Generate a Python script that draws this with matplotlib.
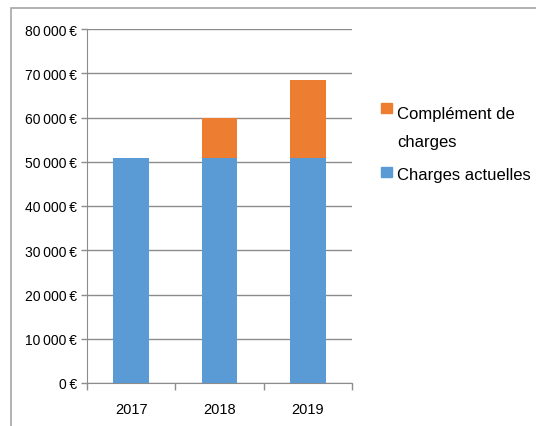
import matplotlib
matplotlib.use("Agg")
import matplotlib.pyplot as plt
from matplotlib.patches import Rectangle
from matplotlib.ticker import FixedLocator, FuncFormatter

years = ["2017", "2018", "2019"]
charges_actuelles = [50800, 50800, 50800]
complement = [0, 9100, 17700]
yticks = [0, 10000, 20000, 30000, 40000, 50000, 60000, 70000, 80000]
legend_labels = ["Complément de", "charges", "Charges actuelles"]

plt.rcParams["font.family"] = ["Liberation Sans", "DejaVu Sans"]

blue = "#5b9bd5"
orange = "#ed7d31"
gray = "#8c8c8c"

fig = plt.figure(figsize=(5.36, 4.27), dpi=100)
ax = fig.add_axes([87/536, 1 - 384/427, (352-87)/536, (384-30)/427])

x = list(range(len(years)))
ax.bar(x, charges_actuelles, width=0.4, color=blue, zorder=3)
ax.bar(x, complement, width=0.4, bottom=charges_actuelles, color=orange, zorder=3)

ax.set_xlim(-0.5, 2.5)
ax.set_ylim(0, 80000)
ax.set_yticks(yticks)
ax.yaxis.set_major_formatter(FuncFormatter(lambda v, p: f"{int(v):,}".replace(",", "\u2009") + "\u2009€"))
ax.set_xticks(x)
ax.set_xticklabels(years)
ax.xaxis.set_minor_locator(FixedLocator([-0.5, 0.5, 1.5, 2.5]))
ax.tick_params(axis="x", which="major", length=0, pad=14, labelsize=10.5)
ax.tick_params(axis="x", which="minor", length=5, color=gray, width=1)
ax.tick_params(axis="y", length=4, color=gray, width=1, labelsize=10, pad=3)

ax.grid(axis="y", color=gray, linewidth=1, zorder=0)
for s in ["top", "right"]:
    ax.spines[s].set_visible(False)
ax.spines["left"].set_color(gray)
ax.spines["bottom"].set_color(gray)

# legend (manual, Excel-like)
def fx(px): return px / 536
def fy(py): return 1 - py / 427
fig.patches.append(Rectangle((fx(381), fy(114)), 11/536, 10/427,
                             transform=fig.transFigure, color=orange))
fig.patches.append(Rectangle((fx(381), fy(178)), 11/536, 10/427,
                             transform=fig.transFigure, color=blue))
fig.text(fx(397), fy(119), legend_labels[0], fontsize=12, va="baseline", ha="left")
fig.text(fx(397), fy(147), legend_labels[1], fontsize=12, va="baseline", ha="left")
fig.text(fx(397), fy(180), legend_labels[2], fontsize=12, va="baseline", ha="left")

fig.patches.append(Rectangle((11/536, -0.5), 2, (427-9)/427 + 0.5,
                             transform=fig.transFigure, fill=False,
                             edgecolor="#a6a6a6", linewidth=1.2))

fig.savefig("out.png", dpi=100)
